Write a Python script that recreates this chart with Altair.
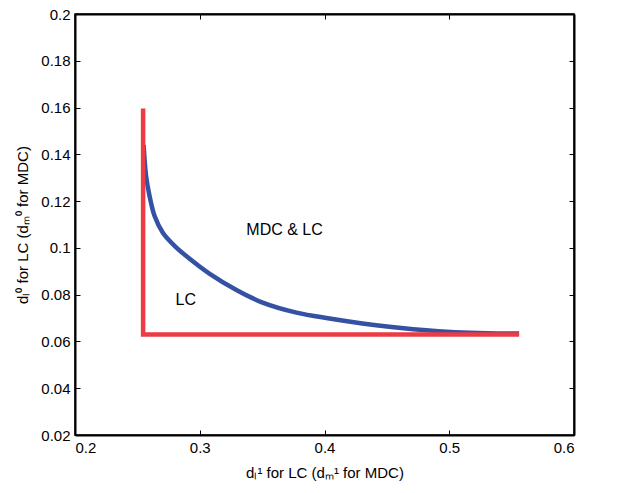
import altair as alt
import pandas as pd

# Blue curve (MDC & LC boundary)
curve_x = [0.2550, 0.2570, 0.2598, 0.2638, 0.2704, 0.2798, 0.2904, 0.3080, 0.3294,
           0.3504, 0.3776, 0.4040, 0.4304, 0.4576, 0.4840, 0.5104, 0.5376, 0.5560]
curve_y = [0.1440, 0.1306, 0.1221, 0.1136, 0.1065, 0.1009, 0.0960, 0.0889, 0.0820,
           0.0766, 0.0723, 0.0698, 0.0677, 0.0660, 0.0647, 0.0638, 0.0634, 0.0634]

# Red L-shaped boundary (LC)
red_x = [0.2546, 0.2546, 0.5560]
red_y = [0.1596, 0.0630, 0.0630]

# Region labels
label_text = ["MDC & LC", "LC"]
label_x = [0.368, 0.2888]
label_y = [0.1077, 0.0779]

x_ticks = [0.2, 0.3, 0.4, 0.5, 0.6]
y_ticks = [0.02, 0.04, 0.06, 0.08, 0.1, 0.12, 0.14, 0.16, 0.18, 0.2]
x_domain = [0.2, 0.6]
y_domain = [0.02, 0.2]

FONT = "Liberation Sans"
BLUE = "#3451A3"
RED = "#EE3A43"

curve_df = pd.DataFrame({"x": curve_x, "y": curve_y, "o": range(len(curve_x))})
red_df = pd.DataFrame({"x": red_x, "y": red_y, "o": range(len(red_x))})
lab_df = pd.DataFrame({"t": label_text, "x": label_x, "y": label_y})

xs = alt.Scale(domain=x_domain, nice=False, zero=False)
ys = alt.Scale(domain=y_domain, nice=False, zero=False)

inward = alt.ExprRef("-5")
frame_axis = dict(grid=False, domain=True, domainColor="#000000", domainWidth=2,
                  domainOpacity=1, tickSize=inward, tickColor="#000000", tickWidth=1, offset=0)
label_style = dict(labelFont=FONT, labelFontSize=15, labelColor="black",
                   titleFont=FONT, titleFontSize=15, titleColor="black", titleFontWeight="normal")

blue = alt.Chart(curve_df).mark_line(color=BLUE, strokeWidth=4.5, interpolate="catmull-rom",
                                     strokeCap="butt").encode(
    x=alt.X("x:Q", scale=xs, axis=alt.Axis(orient="bottom", values=x_ticks, format="~g",
                                           labelPadding=10, titlePadding=10,
                                           title="dₗ¹ for LC (dₘ¹ for MDC)",
                                           **frame_axis, **label_style)),
    y=alt.Y("y:Q", scale=ys, axis=alt.Axis(orient="left", values=y_ticks, format="~g",
                                           labelPadding=10, titlePadding=10,
                                           title="dₗ⁰ for LC (dₘ⁰ for MDC)",
                                           **frame_axis, **label_style)),
    order="o:Q",
)

red = alt.Chart(red_df).mark_line(color=RED, strokeWidth=4.5, strokeJoin="miter", strokeCap="butt").encode(
    x=alt.X("x:Q", scale=xs, axis=alt.Axis(orient="top", values=x_ticks, labels=False, title=None,
                                           **frame_axis)),
    y=alt.Y("y:Q", scale=ys, axis=alt.Axis(orient="right", values=y_ticks, labels=False, title=None,
                                           **frame_axis)),
    order="o:Q",
)

text = alt.Chart(lab_df).mark_text(font=FONT, fontSize=16, color="black", align="center",
                                   baseline="middle").encode(
    x=alt.X("x:Q", scale=xs, axis=None),
    y=alt.Y("y:Q", scale=ys, axis=None),
    text="t:N",
)

chart = alt.layer(blue, red, text).resolve_axis(x="independent", y="independent").properties(
    width=499, height=421,
    autosize=alt.AutoSizeParams(type="none"),
    padding={"left": 67, "top": 6, "right": 40, "bottom": 50},
    background="white",
).configure_view(stroke="#000000", strokeWidth=1.5)

chart.save("out.html", embed_options={"renderer": "svg", "actions": False})
